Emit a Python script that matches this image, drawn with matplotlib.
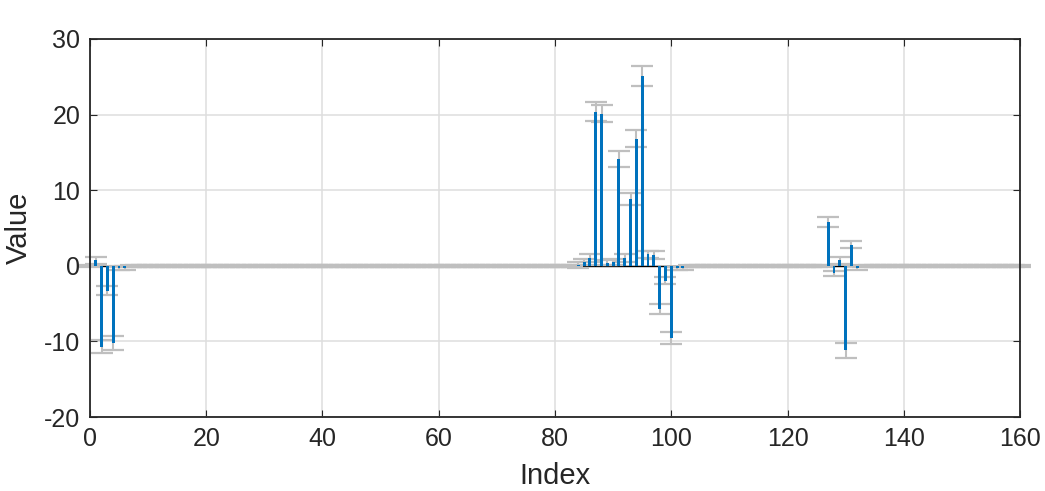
import numpy as np
import matplotlib.pyplot as plt

plt.rcParams['font.family'] = ['Liberation Sans', 'DejaVu Sans']
plt.rcParams['axes.unicode_minus'] = False

# nonzero entries: index, value, error
idx = [1, 2, 3, 4, 5, 6,
       84, 85, 86, 87, 88, 89, 90, 91, 92, 93, 94, 95, 96, 97, 98, 99, 100, 101, 102,
       127, 128, 129, 130, 131, 132]
vals = [0.7, -10.7, -3.3, -10.2, -0.3, -0.3,
        0.1, 0.5, 1.0, 20.4, 20.1, 0.4, 0.5, 14.1, 1.0, 8.8, 16.8, 25.1, 1.5, 1.4, -5.7, -2.0, -9.6, -0.3, -0.3,
        5.8, -1.0, 0.7, -11.2, 2.8, -0.3]
errs = [0.5, 0.9, 0.6, 0.9, 0.25, 0.25,
        0.35, 0.4, 0.5, 1.2, 1.15, 0.3, 0.35, 1.05, 0.5, 0.8, 1.1, 1.35, 0.5, 0.5, 0.7, 0.45, 0.8, 0.2, 0.2,
        0.65, 0.35, 0.4, 1.0, 0.5, 0.3]
n_points = 161
zero_err = 0.15

x = np.arange(n_points)
y = np.zeros(n_points)
e = np.full(n_points, zero_err)
y[idx] = vals
e[idx] = errs

fig = plt.figure(figsize=(10.45, 4.91), dpi=100)
ax = fig.add_axes([0.0861, 0.1507, 0.890, 0.770])

ax.axhline(0, color='black', lw=1.0, zorder=1)
ax.errorbar(x, y, yerr=e, fmt='none', ecolor='#bfbfbf', elinewidth=1.5,
            capsize=7.8, capthick=1.6, zorder=2, clip_on=False)
ax.bar(x, y, width=0.5, color='#0072bd', linewidth=0, zorder=3)

ax.set_xlim(0, 160)
ax.set_ylim(-20, 30)
ax.set_xticks(np.arange(0, 161, 20))
ax.set_yticks(np.arange(-20, 31, 10))
ax.grid(True, color='#dedede', lw=1.1, zorder=0)
ax.set_axisbelow(True)

for s in ax.spines.values():
    s.set_color('#262626')
    s.set_linewidth(1.3)
ax.tick_params(direction='in', top=True, right=True, length=5, width=0.8,
               color='#262626', labelsize=18, labelcolor='#262626', pad=7)
ax.set_xlabel('Index', fontsize=21, color='#262626', labelpad=8)
ax.set_ylabel('Value', fontsize=21, color='#262626', labelpad=8)

fig.savefig('out.png', dpi=100)
